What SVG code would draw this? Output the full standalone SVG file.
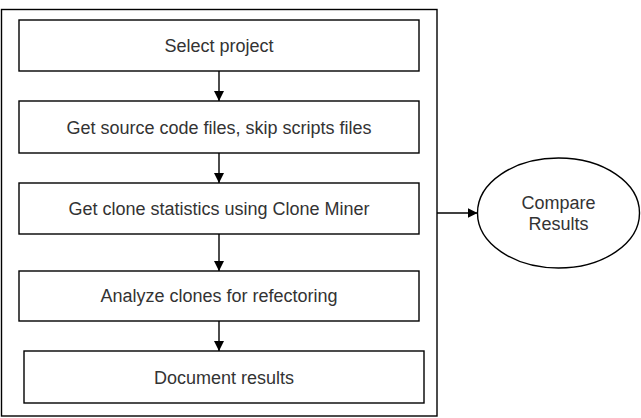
<svg xmlns="http://www.w3.org/2000/svg" width="641" height="418" viewBox="0 0 641 418">
<defs>
<marker id="arr" markerWidth="10" markerHeight="10" refX="10" refY="5" orient="auto" markerUnits="userSpaceOnUse">
<path d="M0,0 L10,5 L0,10 Z" fill="#000"/>
</marker>
<style>
.box{fill:#fff;stroke:#000;stroke-width:1.4}
.lbl{font-family:"Liberation Sans",Arial,sans-serif;font-size:18px;fill:#333;text-anchor:middle}
.con{stroke:#000;stroke-width:1.4;fill:none}
</style>
</defs>
<rect width="641" height="418" fill="#fff"/>
<g id="frame"><rect class="box" x="1.5" y="9.5" width="435.5" height="406.5"/></g>
<g id="n1"><rect class="box" x="19" y="20" width="400" height="51"/><text class="lbl" x="219" y="52">Select project</text></g>
<g id="n2"><rect class="box" x="19" y="101" width="400" height="52"/><text class="lbl" x="219" y="133.5">Get source code files, skip scripts files</text></g>
<g id="n3"><rect class="box" x="19" y="183" width="400" height="51"/><text class="lbl" x="219" y="214.5">Get clone statistics using Clone Miner</text></g>
<g id="n4"><rect class="box" x="19" y="271" width="400" height="50"/><text class="lbl" x="219" y="301.5">Analyze clones for refectoring</text></g>
<g id="n5"><rect class="box" x="24" y="351" width="400" height="52"/><text class="lbl" x="224" y="383.5">Document results</text></g>
<g id="n6"><ellipse class="box" cx="558.5" cy="213" rx="81" ry="55"/><text class="lbl" x="558.5" y="209">Compare</text><text class="lbl" x="558.5" y="230">Results</text></g>
<g id="connectors">
<line class="con" x1="219" y1="71" x2="219" y2="101" marker-end="url(#arr)"/>
<line class="con" x1="219" y1="153" x2="219" y2="183" marker-end="url(#arr)"/>
<line class="con" x1="219" y1="234" x2="219" y2="271" marker-end="url(#arr)"/>
<line class="con" x1="219" y1="321" x2="219" y2="351" marker-end="url(#arr)"/>
<line class="con" x1="437" y1="213" x2="477.5" y2="213" marker-end="url(#arr)"/>
</g>
</svg>
